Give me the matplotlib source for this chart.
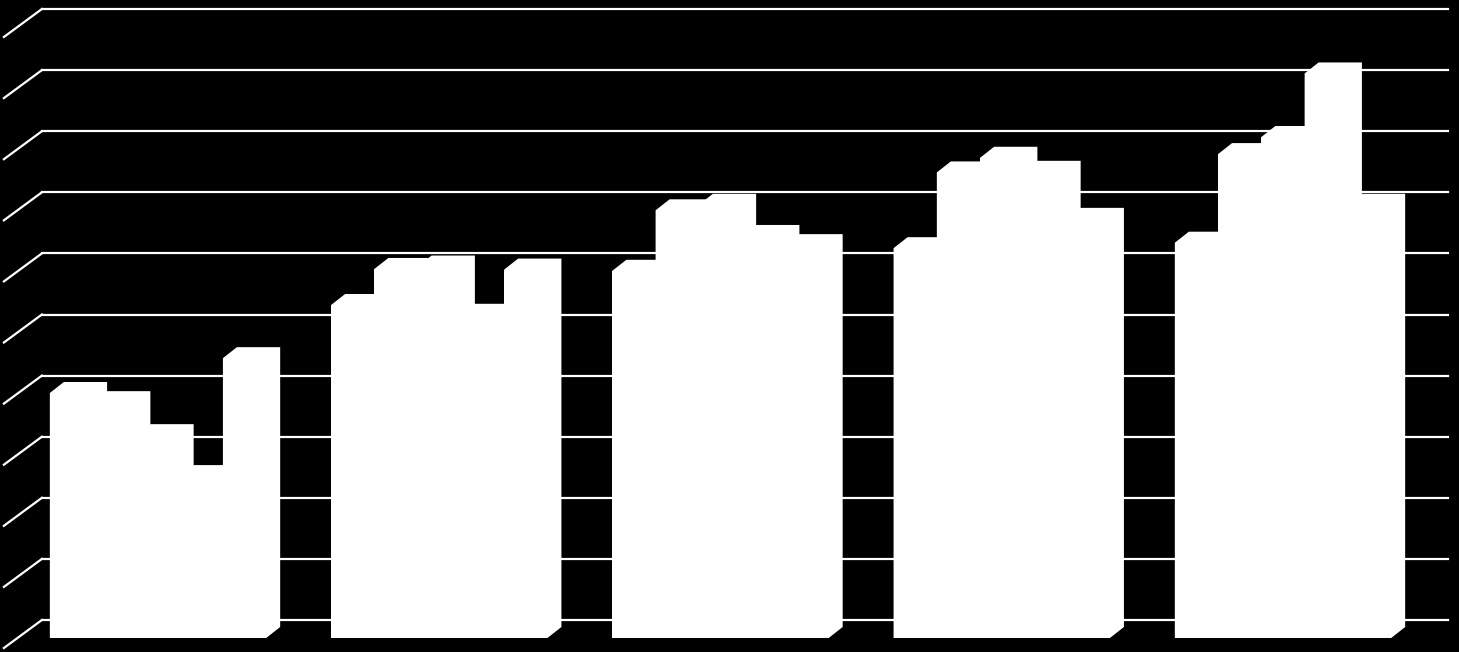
import matplotlib
matplotlib.use('Agg')
import matplotlib.pyplot as plt
from matplotlib.patches import Polygon
from matplotlib.transforms import Affine2D

# five categories, five series (no labels shown in the original)
categories = ['A', 'B', 'C', 'D', 'E']
series1 = [40.1, 54.5, 60.1, 63.8, 64.7]
series2 = [38.6, 60.4, 70.0, 76.2, 79.2]
series3 = [33.2, 60.8, 70.9, 78.6, 82.0]
series4 = [26.5, 52.9, 65.8, 76.3, 92.4]
series5 = [45.8, 60.3, 64.3, 68.6, 70.9]
grid_values = [0, 10, 20, 30, 40, 50, 60, 70, 80, 90, 100]

all_series = [series1, series2, series3, series4, series5]

# oblique "3D" offsets in pixels (dpi 100 -> 1 px per display unit)
bar_depth = (14, 11)
wall_offset = (24.5, 18)
front_offset = (-13.5, -10)

fig = plt.figure(figsize=(14.59, 6.52), dpi=100, facecolor='black')
ax = fig.add_axes([0, 0, 1, 1])
ax.set_facecolor('black')
ax.axis('off')
ax.set_xlim(-0.5618, 4.6258)
ax.set_ylim(-2.29, 104.42)

nser = len(all_series)
width = 1 / (nser + 1.5)

# back wall gridlines and side wall stubs
wall = ax.transData + Affine2D().translate(*wall_offset)
for v in grid_values:
    ax.plot([-0.5, 4.5], [v, v], color='white', lw=1.6, transform=wall, zorder=1)
    bx, by = ax.transData.transform((-0.5, v))
    ax.plot([bx + front_offset[0], bx + wall_offset[0]],
            [by + front_offset[1], by + wall_offset[1]],
            color='white', lw=1.6, transform=None, zorder=1)

# bars: whole box outline as a polygon, front face via ax.bar on top
z = 2
for i in range(len(categories)):
    for j in range(nser):
        left = i - nser * width / 2 + j * width
        h = all_series[j][i]
        x0, y0 = ax.transData.transform((left, 0))
        x1, y1 = ax.transData.transform((left + width, h))
        dx, dy = bar_depth
        pts = [(x0, y0), (x0, y1), (x0 + dx, y1 + dy), (x1 + dx, y1 + dy),
               (x1 + dx, y0 + dy), (x1, y0)]
        ax.add_patch(Polygon(pts, closed=True, facecolor='white',
                             edgecolor='none', transform=None, zorder=z))
        ax.bar(left, h, width, align='edge', color='white', lw=0, zorder=z + 1)
        z += 2

fig.savefig('out.png', dpi=100, facecolor='black')
